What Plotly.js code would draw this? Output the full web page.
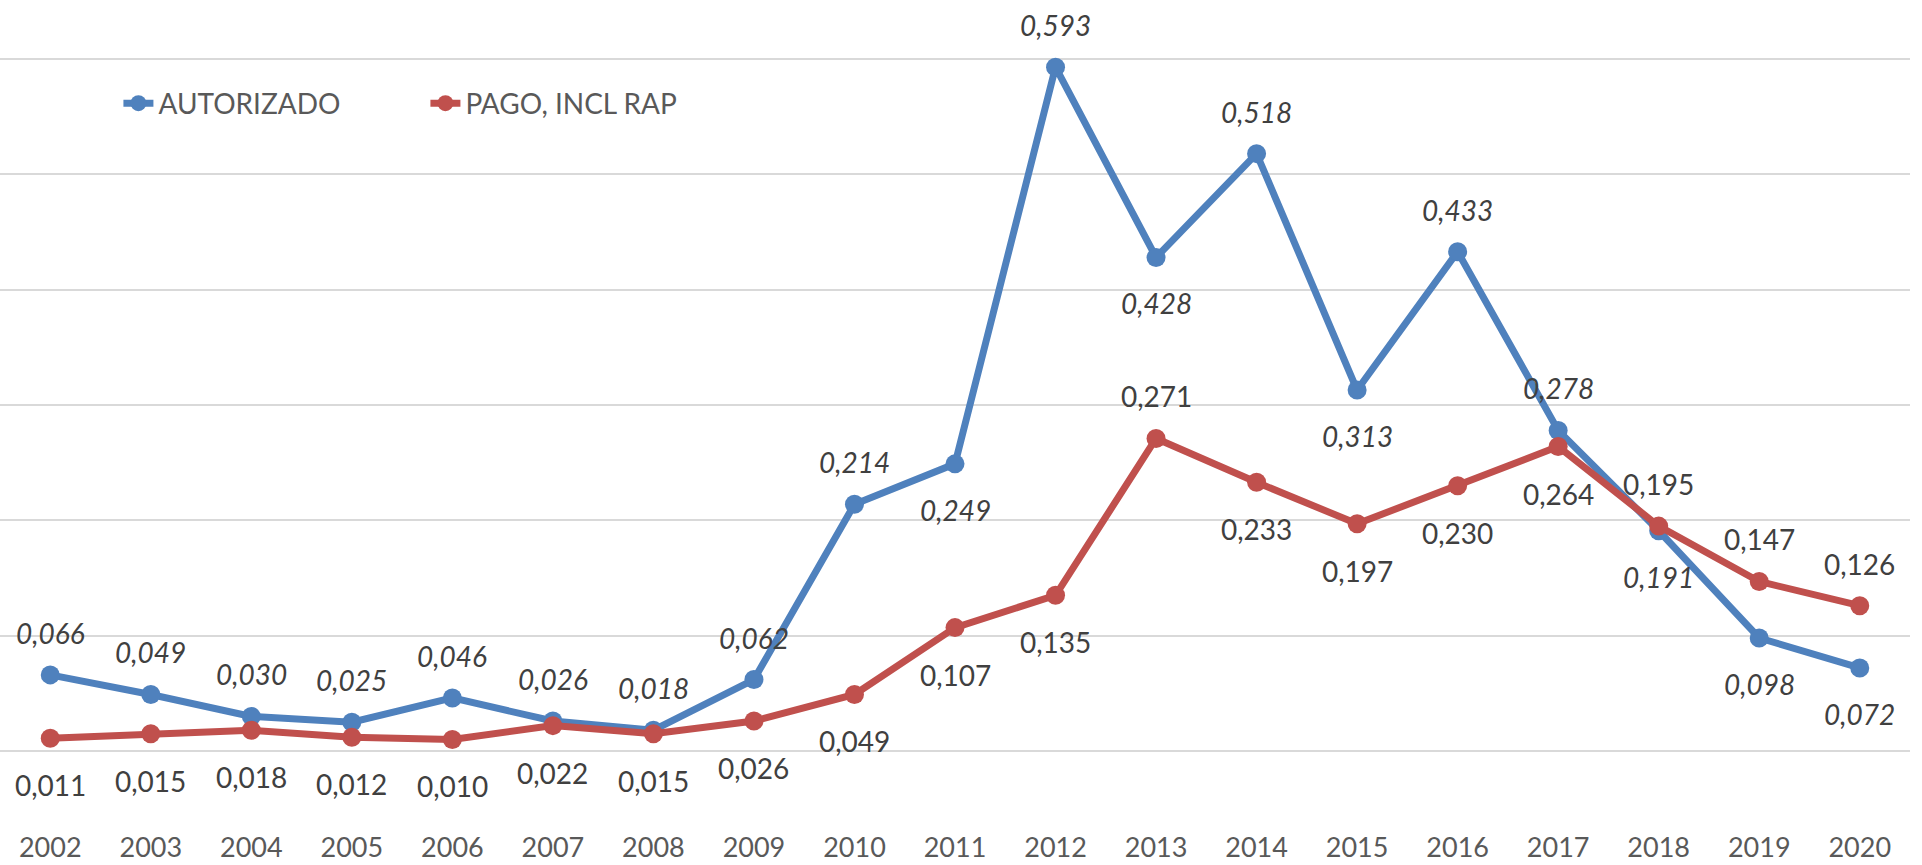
<!DOCTYPE html>
<html>
<head>
<meta charset="utf-8">
<script src="https://cdn.plot.ly/plotly-3.0.1.min.js"></script>
<style>
  html, body { margin: 0; padding: 0; background: #ffffff; }
  #chart { width: 1922px; height: 865px; }
</style>
</head>
<body>
<div id="chart"></div>
<script>
// ---- data ----
const years = ["2002","2003","2004","2005","2006","2007","2008","2009","2010","2011",
               "2012","2013","2014","2015","2016","2017","2018","2019","2020"];
const autorizado = [0.066,0.049,0.030,0.025,0.046,0.026,0.018,0.062,0.214,0.249,
                    0.593,0.428,0.518,0.313,0.433,0.278,0.191,0.098,0.072];
const pago = [0.011,0.015,0.018,0.012,0.010,0.022,0.015,0.026,0.049,0.107,
              0.135,0.271,0.233,0.197,0.230,0.264,0.195,0.147,0.126];
const seriesNames = ["AUTORIZADO", "PAGO, INCL RAP"];

// label placement (a = above, b = below)
const autLabelPos = ["a","a","a","a","a","a","a","a","a","b","a","b","a","b","a","a","b","b","b"];
const pagoLabelPos = ["b","b","b","b","b","b","b","b","b","b","b","a","b","b","b","b","a","a","a"];

// ---- styling ----
const FONT = "Lato, 'Open Sans', sans-serif";
const BLUE = "#4F81BD";
const RED = "#C0504D";
const fmt = v => v.toFixed(3).replace(".", ",");

const traces = [
  {
    type: "scatter", mode: "lines+markers", name: seriesNames[0],
    x: years, y: autorizado,
    line: { color: BLUE, width: 7 },
    marker: { color: BLUE, size: 19 },
    hoverinfo: "skip"
  },
  {
    type: "scatter", mode: "lines+markers", name: seriesNames[1],
    x: years, y: pago,
    line: { color: RED, width: 7 },
    marker: { color: RED, size: 19 },
    hoverinfo: "skip"
  }
];

const annotations = [];
years.forEach((yr, i) => {
  annotations.push({
    x: i, y: autorizado[i], xref: "x", yref: "y",
    text: fmt(autorizado[i]), showarrow: false,
    yshift: autLabelPos[i] === "a" ? 42 : -46,
    font: { family: FONT, size: 28, color: "#404040", style: "italic" }
  });
  annotations.push({
    x: i, y: pago[i], xref: "x", yref: "y",
    text: fmt(pago[i]), showarrow: false,
    yshift: pagoLabelPos[i] === "a" ? 42 : -47,
    font: { family: FONT, size: 28, color: "#404040" }
  });
});

const layout = {
  width: 1922, height: 865,
  margin: { l: 0, r: 12, t: 57, b: 114 },
  paper_bgcolor: "#ffffff", plot_bgcolor: "#ffffff",
  showlegend: true,
  legend: {
    orientation: "h",
    x: 0.062, xanchor: "left",
    y: 0.933, yanchor: "middle",
    font: { family: FONT, size: 28, color: "#595959" },
    entrywidth: 262, entrywidthmode: "pixels",
    bgcolor: "rgba(0,0,0,0)",
    itemclick: false
  },
  xaxis: {
    type: "category",
    range: [-0.5, 18.5],
    showgrid: false, zeroline: false, showline: false,
    ticks: "",
    ticklabelstandoff: 78,
    tickfont: { family: FONT, size: 27, color: "#595959" },
    fixedrange: true
  },
  yaxis: {
    range: [0, 0.6018],
    dtick: 0.1,
    showticklabels: false,
    showgrid: true, gridcolor: "#d9d9d9", gridwidth: 2,
    zeroline: true, zerolinecolor: "#d9d9d9", zerolinewidth: 2,
    showline: false, ticks: "",
    fixedrange: true
  },
  annotations: annotations
};

Plotly.newPlot("chart", traces, layout, { displayModeBar: false, staticPlot: true });
</script>
</body>
</html>
